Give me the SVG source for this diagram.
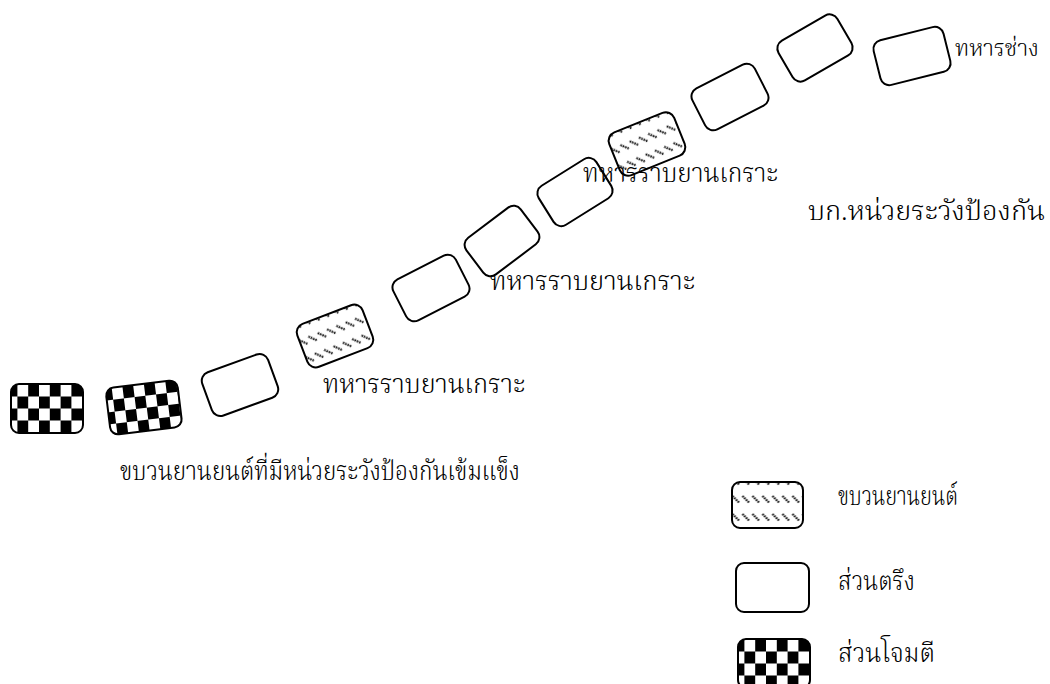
<svg xmlns="http://www.w3.org/2000/svg" width="1050" height="684" viewBox="0 0 1050 684">
<style>
.bx{stroke:#000;stroke-width:2;}
.w{fill:#fff;}
.ck{fill:url(#checker);}
.ht{fill:url(#hatch);}
text{font-family:"Noto Serif Thai","Liberation Serif","DejaVu Serif",serif;font-size:26px;font-weight:300;fill:#000;}
text.sm{font-size:23px;}
</style>
<defs>
<pattern id="checker" patternUnits="userSpaceOnUse" x="-40.4" y="-24" width="21.6" height="24">
<rect x="0" y="0" width="21.6" height="24" fill="#fff"/>
<rect x="0" y="0" width="10.8" height="12" fill="#000"/>
<rect x="10.8" y="12" width="10.8" height="12" fill="#000"/>
</pattern>
<pattern id="hatch" patternUnits="userSpaceOnUse" x="-36" y="-28" width="10" height="18">
<rect x="0" y="0" width="10" height="18" fill="#fff"/>
<line x1="1" y1="1" x2="8" y2="8" stroke="#111" stroke-width="2.2" stroke-dasharray="1.6 0.9"/>
</pattern>
</defs>
<g id="connectors"></g>
<g id="n1" transform="translate(47,408.5)"><rect class="bx ck" x="-36" y="-24.5" width="72" height="49" rx="8"/></g>
<g id="n2" transform="translate(144,408) rotate(-7)"><rect class="bx ck" x="-36" y="-24" width="72" height="47" rx="8"/></g>
<g id="n3" transform="translate(240,385) rotate(-20)"><rect class="bx w" x="-35" y="-23" width="70" height="46" rx="9"/></g>
<g id="n4" transform="translate(335,336) rotate(-21)"><rect class="bx ht" x="-35" y="-23" width="70" height="46" rx="9"/></g>
<g id="n5" transform="translate(431,288) rotate(-27)"><rect class="bx w" x="-35" y="-23" width="70" height="46" rx="9"/></g>
<g id="n6" transform="translate(502,241) rotate(-37)"><rect class="bx w" x="-34" y="-23" width="68" height="46" rx="9"/></g>
<g id="n7" transform="translate(575,192) rotate(-32)"><rect class="bx w" x="-34" y="-23" width="68" height="46" rx="9"/></g>
<g id="n8" transform="translate(647,144) rotate(-22)"><rect class="bx ht" x="-35" y="-23" width="70" height="46" rx="9"/></g>
<g id="n9" transform="translate(730,97) rotate(-27)"><rect class="bx w" x="-35" y="-23" width="70" height="46" rx="9"/></g>
<g id="n10" transform="translate(815,48) rotate(-30)"><rect class="bx w" x="-34" y="-23" width="68" height="46" rx="9"/></g>
<g id="n11" transform="translate(912,56) rotate(-14)"><rect class="bx w" x="-36" y="-23" width="72" height="46" rx="9"/></g>
<g id="labels">
<text class="sm" x="955" y="56" textLength="84" lengthAdjust="spacingAndGlyphs">ทหารช่าง</text>
<text x="808" y="220" textLength="237" lengthAdjust="spacingAndGlyphs">บก.หน่วยระวังป้องกัน</text>
<text x="583" y="182" textLength="195" lengthAdjust="spacingAndGlyphs">ทหารราบยานเกราะ</text>
<text x="490" y="290" textLength="205" lengthAdjust="spacingAndGlyphs">ทหารราบยานเกราะ</text>
<text x="323" y="393" textLength="202" lengthAdjust="spacingAndGlyphs">ทหารราบยานเกราะ</text>
<text x="120" y="480" textLength="400" lengthAdjust="spacingAndGlyphs">ขบวนยานยนต์ที่มีหน่วยระวังป้องกันเข้มแข็ง</text>
</g>
<g id="legend">
<g id="lg1" transform="translate(767.5,505)"><rect class="bx ht" x="-35.5" y="-23" width="71" height="46" rx="8"/></g>
<text x="838" y="505" textLength="120" lengthAdjust="spacingAndGlyphs">ขบวนยานยนต์</text>
<g id="lg2" transform="translate(772.5,587.5)"><rect class="bx w" x="-36.5" y="-24.5" width="73" height="49" rx="8"/></g>
<text x="838" y="590" textLength="77" lengthAdjust="spacingAndGlyphs">ส่วนตรึง</text>
<g id="lg3" transform="translate(774,663.5)"><rect class="bx ck" x="-36" y="-24.5" width="72" height="49" rx="8"/></g>
<text x="838" y="662" textLength="97" lengthAdjust="spacingAndGlyphs">ส่วนโจมตี</text>
</g>
</svg>
